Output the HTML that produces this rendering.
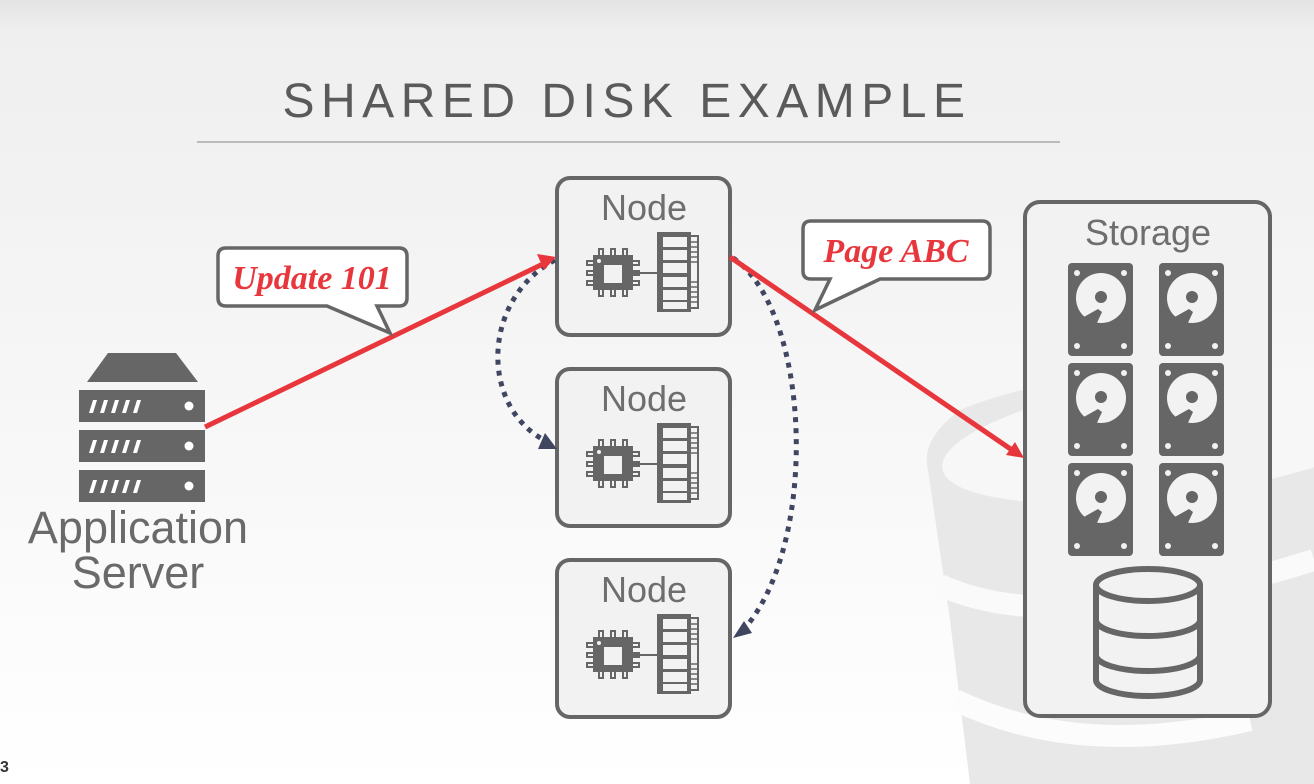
<!DOCTYPE html>
<html><head><meta charset="utf-8"><style>
html,body{margin:0;padding:0;width:1314px;height:784px;overflow:hidden}
svg{display:block}
</style></head><body>
<svg width="1314" height="784" viewBox="0 0 1314 784" xmlns="http://www.w3.org/2000/svg">
<defs>
<linearGradient id="bg" x1="0" y1="0" x2="0" y2="1">
<stop offset="0" stop-color="#e4e4e4"/><stop offset="0.04" stop-color="#efefef"/><stop offset="0.3" stop-color="#f3f3f3"/><stop offset="1" stop-color="#ffffff"/>
</linearGradient>
<g id="node">
<rect x="0" y="0" width="173" height="157" rx="13" fill="#f2f2f2" stroke="#666" stroke-width="4"/>
<text x="87" y="42" text-anchor="middle" font-family="Liberation Sans, sans-serif" font-size="36" fill="#6e6e6e">Node</text>
<g fill="#f2f2f2" stroke="#666" stroke-width="2">
<rect x="42" y="71" width="4" height="8"/><rect x="54" y="71" width="4" height="8"/><rect x="66" y="71" width="4" height="8"/>
<rect x="42" y="110" width="4" height="8"/><rect x="54" y="110" width="4" height="8"/><rect x="66" y="110" width="4" height="8"/>
<rect x="30" y="83" width="8" height="4"/><rect x="30" y="93" width="8" height="4"/><rect x="30" y="103" width="8" height="4"/>
<rect x="74" y="83" width="8" height="4"/><rect x="74" y="93" width="8" height="4"/><rect x="74" y="103" width="8" height="4"/>
</g>
<rect x="36" y="77" width="40" height="35" fill="#666"/>
<rect x="47" y="87" width="18" height="18" fill="#f2f2f2"/>
<circle cx="42" cy="83" r="2" fill="#f2f2f2"/>
<line x1="76" y1="95" x2="100" y2="95" stroke="#666" stroke-width="2"/>
<rect x="100" y="54" width="34" height="80" fill="#666"/>
<g fill="#f2f2f2"><rect x="106" y="59" width="24" height="10"/><rect x="106" y="72" width="24" height="10"/><rect x="106" y="85" width="24" height="10"/><rect x="106" y="99" width="24" height="10"/><rect x="106" y="112" width="24" height="10"/><rect x="106" y="124" width="24" height="7"/></g>
<path d="M134 58 H141 V130 H134" fill="none" stroke="#666" stroke-width="2"/>
<g stroke="#666" stroke-width="1.5"><line x1="134" y1="64" x2="140" y2="64"/><line x1="134" y1="69" x2="140" y2="69"/><line x1="134" y1="74" x2="140" y2="74"/><line x1="134" y1="79" x2="140" y2="79"/><line x1="134" y1="84" x2="140" y2="84"/><line x1="134" y1="104" x2="140" y2="104"/><line x1="134" y1="109" x2="140" y2="109"/><line x1="134" y1="114" x2="140" y2="114"/><line x1="134" y1="119" x2="140" y2="119"/><line x1="134" y1="124" x2="140" y2="124"/></g>
</g>
<g id="disk">
<rect x="0" y="0" width="65" height="93" rx="4" fill="#666"/>
<g fill="#f2f2f2"><circle cx="9" cy="10" r="3"/><circle cx="56" cy="10" r="3"/><circle cx="9" cy="83" r="3"/><circle cx="56" cy="83" r="3"/></g>
<circle cx="33" cy="35" r="25" fill="#f2f2f2"/>
<path d="M14 55 L30 46 L34 49 L28 62 Z" fill="#666"/>
<circle cx="33" cy="34" r="6" fill="#666"/>
</g>
<g id="rack">
<rect x="0" y="0" width="126" height="32" fill="#666"/>
<g fill="#fff"><path d="M10 23 L14 10 H18 L14 23Z"/><path d="M21 23 L25 10 H29 L25 23Z"/><path d="M32 23 L36 10 H40 L36 23Z"/><path d="M43 23 L47 10 H51 L47 23Z"/><path d="M54 23 L58 10 H62 L58 23Z"/></g>
<circle cx="110" cy="16" r="4.5" fill="#fff"/>
</g>
</defs>
<rect width="1314" height="784" fill="url(#bg)"/>
<g>
<path d="M928 470 Q920 440 960 410 Q1080 360 1314 370 V784 H970 L950 620 Z" fill="#e8e8e8"/>
<ellipse cx="1180" cy="435" rx="240" ry="60" transform="rotate(-8 1180 435)" fill="#f7f7f7"/>
<path d="M940 585 Q1060 640 1314 560" stroke="#fafafa" stroke-width="22" fill="none"/>
<path d="M955 700 Q1080 760 1250 720" stroke="#fcfcfc" stroke-width="22" fill="none"/>
</g>
<text x="627" y="117" text-anchor="middle" font-family="Liberation Sans, sans-serif" font-size="48" letter-spacing="6.5" fill="#5a5a5a">SHARED DISK EXAMPLE</text>
<line x1="197" y1="142" x2="1060" y2="142" stroke="#bbb" stroke-width="2"/>
<use href="#node" x="557" y="178"/>
<use href="#node" x="557" y="369"/>
<use href="#node" x="557" y="560"/>
<rect x="1025" y="202" width="245" height="514" rx="15" fill="#f2f2f2" stroke="#666" stroke-width="4"/>
<text x="1148" y="245" text-anchor="middle" font-family="Liberation Sans, sans-serif" font-size="36" fill="#6e6e6e">Storage</text>
<use href="#disk" x="1068" y="263"/><use href="#disk" x="1159" y="263"/>
<use href="#disk" x="1068" y="363"/><use href="#disk" x="1159" y="363"/>
<use href="#disk" x="1068" y="463"/><use href="#disk" x="1159" y="463"/>
<g fill="#f2f2f2" stroke="#666" stroke-width="6">
<path d="M1096 655 V680 A52 16 0 0 0 1200 680 V655"/>
<path d="M1096 620 V655 A52 16 0 0 0 1200 655 V620"/>
<path d="M1096 585 V620 A52 16 0 0 0 1200 620 V585"/>
<ellipse cx="1148" cy="585" rx="52" ry="16"/>
</g>
<path d="M108 353 H176 L198 382 H87 Z" fill="#666"/>
<use href="#rack" x="79" y="390"/><use href="#rack" x="79" y="430"/><use href="#rack" x="79" y="470"/>
<text x="138" y="543" text-anchor="middle" font-family="Liberation Sans, sans-serif" font-size="45" fill="#6a6a6a">Application</text>
<text x="138" y="588" text-anchor="middle" font-family="Liberation Sans, sans-serif" font-size="45" fill="#6a6a6a">Server</text>
<path d="M555 260 C480 300 480 410 548 442" fill="none" stroke="#404560" stroke-width="5" stroke-dasharray="5 6"/>
<path d="M545 433 L557 449 L538 449 Z" fill="#404560"/>
<path d="M733 258 C810 310 820 540 745 628" fill="none" stroke="#404560" stroke-width="5" stroke-dasharray="5 6"/>
<path d="M733 638 L744 621 L752 633 Z" fill="#404560"/>
<line x1="205" y1="427" x2="545" y2="263" stroke="#e8363d" stroke-width="5"/>
<path d="M556 257 L537 254 L544 270 Z" fill="#e8363d"/>
<line x1="730" y1="257" x2="1012" y2="450" stroke="#e8363d" stroke-width="5"/>
<path d="M1024 458 L1015 442 L1006 455 Z" fill="#e8363d"/>
<path d="M226 248 H399 Q407 248 407 256 V298 Q407 306 399 306 H377 L390 333 L327 306 H226 Q218 306 218 298 V256 Q218 248 226 248 Z" fill="#fff" stroke="#666" stroke-width="3.5"/>
<text x="312" y="289" text-anchor="middle" font-family="Liberation Serif, serif" font-style="italic" font-weight="bold" font-size="34" fill="#e8363d">Update 101</text>
<path d="M811 221 H982 Q990 221 990 229 V271 Q990 279 982 279 H880 L815 310 L830 279 H811 Q803 279 803 271 V229 Q803 221 811 221 Z" fill="#fff" stroke="#666" stroke-width="3.5"/>
<text x="896" y="262" text-anchor="middle" font-family="Liberation Serif, serif" font-style="italic" font-weight="bold" font-size="34" fill="#e8363d">Page ABC</text>
<text x="0" y="772" font-family="Liberation Sans, sans-serif" font-weight="bold" font-size="16" fill="#333">3</text>
</svg>
</body></html>
